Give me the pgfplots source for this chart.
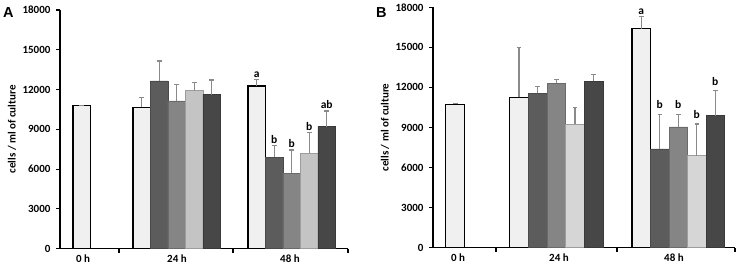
\documentclass[border=0pt]{standalone}
\usepackage{fontspec}
\setmainfont{Carlito}
\newfontfamily\arialb{Liberation Sans}
\usepackage{pgfplots}
\pgfplotsset{compat=1.18}
\definecolor{cA}{HTML}{F0F0F0}
\definecolor{cB}{HTML}{5C5C5C}
\definecolor{cC}{HTML}{858585}
\definecolor{cD}{HTML}{C4C4C4}
\definecolor{cDb}{HTML}{D6D6D6}
\definecolor{cE}{HTML}{474747}
\definecolor{errc}{HTML}{8A8A8A}
\tikzset{lab/.style={anchor=south, inner sep=1pt, yshift=1pt, font=\fontsize{11.5}{12}\selectfont\bfseries}}
\pgfplotsset{
  panel/.style={
    scale only axis,
    axis lines=left,
    axis line style={-, line width=1.3pt, black},
    ymin=0, ymax=18000,
    ytick={0,3000,6000,9000,12000,15000,18000},
    scaled y ticks=false,
    tick align=outside,
    major tick length=4pt,
    tick style={line width=1.1pt, black},
    /pgf/number format/assume math mode=true,
    /pgf/number format/1000 sep={},
    ticklabel style={font=\fontsize{11}{12}\selectfont\bfseries},
    yticklabel style={xshift=-2pt},
    xticklabels={},
    extra x tick style={major tick length=0pt, tick style={draw=none}},
    extra x tick labels={0 h,24 h,48 h},
    extra x tick style={xticklabel style={yshift=-3pt}},
    ylabel={cells / ml of culture},
    clip=false,
    ybar,
    error bars/y dir=plus,
    error bars/y explicit,
    error bars/error bar style={color=errc, line width=1.1pt},
    error bars/error mark options={rotate=90, mark size=2.3pt, color=errc, line width=1.1pt},
  },
  s1/.style={bar shift=0pt, fill=cA, draw=black, line width=1.1pt},
  s2/.style={bar shift=0pt, fill=cB, draw=cB!80!black, line width=0.6pt},
  s3/.style={bar shift=0pt, fill=cC, draw=cC!80!black, line width=0.6pt},
  s4/.style={bar shift=0pt, fill=cD, draw=cD!80!black, line width=0.6pt},
  s5/.style={bar shift=0pt, fill=cE, draw=cE!80!black, line width=0.6pt},
}
\begin{document}
\begin{tikzpicture}[x=1pt,y=1pt]
\path[use as bounding box] (0,0) rectangle (743,272);
\node[anchor=base west, inner sep=0pt, font=\fontsize{14.5}{16}\selectfont\bfseries\arialb] at (3,254.5) {A};
\node[anchor=base west, inner sep=0pt, font=\fontsize{14.5}{16}\selectfont\bfseries\arialb] at (376,254.5) {B};
% ---------------- Panel A ----------------
\begin{axis}[panel,
  at={(60pt,23.3pt)}, anchor=south west,
  width=288pt, height=238.7pt,
  xmin=60, xmax=348,
  xtick={119,233,348},
  extra x ticks={83,177,290},
  bar width=17.5,
  ylabel style={at={(axis description cs:-0.1667,0.5)}, anchor=center, rotate=0, font=\fontsize{11}{12}\selectfont\bfseries},
]
\addplot[s1] coordinates {(81.7,10800) +- (0,0) (141.7,10660) +- (0,760) (256.7,12270) +- (0,500)};
\addplot[s2] coordinates {(159.2,12650) +- (0,1500) (274.2,6890) +- (0,900)};
\addplot[s3] coordinates {(176.7,11140) +- (0,1260) (291.7,5690) +- (0,1750)};
\addplot[s4] coordinates {(194.2,11910) +- (0,600) (309.2,7190) +- (0,1550)};
\addplot[s5] coordinates {(211.7,11610) +- (0,1110) (326.7,9200) +- (0,1180)};
\node[lab] at (axis cs:256.7,12770) {a};
\node[lab] at (axis cs:274.2,7790) {b};
\node[lab] at (axis cs:291.7,7440) {b};
\node[lab] at (axis cs:309.2,8740) {b};
\node[lab] at (axis cs:326.7,10380) {ab};
\end{axis}
% ---------------- Panel B ----------------
\begin{axis}[panel,
  at={(433pt,24.3pt)}, anchor=south west,
  width=302pt, height=240.4pt,
  xmin=433, xmax=735,
  xtick={496,617,735},
  extra x ticks={458,559,674},
  bar width=18.6,
  ylabel style={at={(axis description cs:-0.159,0.5)}, anchor=center, rotate=0, font=\fontsize{11}{12}\selectfont\bfseries},
]
\addplot[s1] coordinates {(455.2,10750) +- (0,60) (519,11260) +- (0,3720) (641.3,16400) +- (0,900)};
\addplot[s2] coordinates {(537.7,11560) +- (0,500) (659.8,7390) +- (0,2600)};
\addplot[s3] coordinates {(556.4,12310) +- (0,250) (678.3,9040) +- (0,950)};
\addplot[s4, fill=cDb] coordinates {(575,9260) +- (0,1220) (696.8,6890) +- (0,2370)};
\addplot[s5] coordinates {(593.7,12460) +- (0,520) (715.3,9890) +- (0,1900)};
\node[lab] at (axis cs:641.3,17300) {a};
\node[lab, yshift=3pt] at (axis cs:659.8,9990) {b};
\node[lab, yshift=3pt] at (axis cs:678.3,9990) {b};
\node[lab, yshift=3pt] at (axis cs:696.8,9260) {b};
\node[lab, yshift=3pt] at (axis cs:715.3,11780) {b};
\end{axis}
\end{tikzpicture}
\end{document}
